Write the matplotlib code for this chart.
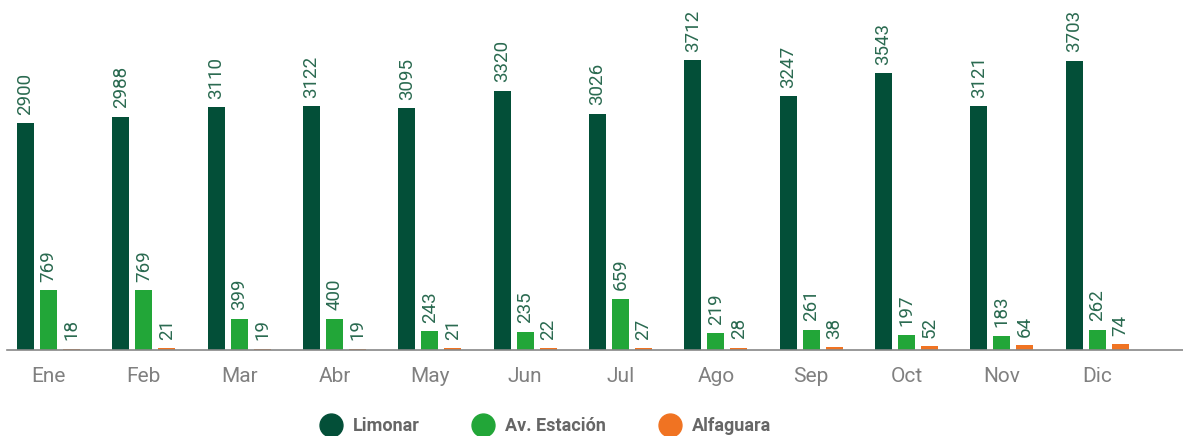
import matplotlib
matplotlib.use("Agg")
import matplotlib.pyplot as plt
from matplotlib.lines import Line2D
import numpy as np

months = ["Ene", "Feb", "Mar", "Abr", "May", "Jun", "Jul", "Ago", "Sep", "Oct", "Nov", "Dic"]
limonar = [2900, 2988, 3110, 3122, 3095, 3320, 3026, 3712, 3247, 3543, 3121, 3703]
av_estacion = [769, 769, 399, 400, 243, 235, 659, 219, 261, 197, 183, 262]
alfaguara = [18, 21, 19, 19, 21, 22, 27, 28, 38, 52, 64, 74]
series_names = ["Limonar", "Av. Estación", "Alfaguara"]
colors = ["#034f38", "#22a638", "#f07322"]

plt.rcParams['font.family'] = ['Roboto', 'DejaVu Sans']

W, H = 1183, 436
fig = plt.figure(figsize=(W / 100, H / 100), dpi=100)
ax = fig.add_axes([7 / W, (H - 350) / H, (W - 7) / W, 350 / H])

x = np.arange(len(months))
bw = 0.178
off = 0.241
label_color = "#2a6a50"
for i, (vals, name, c) in enumerate(zip([limonar, av_estacion, alfaguara], series_names, colors)):
    bars = ax.bar(x + (i - 1) * off, vals, width=bw, color=c, label=name)
    ax.bar_label(bars, labels=[str(v) for v in vals], rotation=90, padding=6,
                 color=label_color, fontsize=13.5, fontweight='normal')

ax.set_xlim(-0.435, 11.90)
ax.set_ylim(0, 3712 * 350 / 290)
ax.set_xticks(x)
ax.set_xticklabels(months, fontsize=15, color="#808080", fontweight='normal')
ax.tick_params(axis='x', length=0, pad=12)
ax.set_yticks([])
for s in ["top", "right", "left"]:
    ax.spines[s].set_visible(False)
ax.spines["bottom"].set_color("#888888")
ax.spines["bottom"].set_linewidth(1.2)

handles = [Line2D([0], [0], marker='o', linestyle='none', markersize=16.5,
                  markerfacecolor=c, markeredgecolor=c) for c in colors]
leg = fig.legend(handles, series_names, loc='center', bbox_to_anchor=(545 / W, 10 / H),
                 ncol=3, frameon=False, fontsize=13, handlelength=1.3, handletextpad=0.55,
                 columnspacing=2.9, borderaxespad=0, borderpad=0)
for t in leg.get_texts():
    t.set_color("#666666")
    t.set_fontweight('bold')

fig.savefig("out.png", dpi=100)
